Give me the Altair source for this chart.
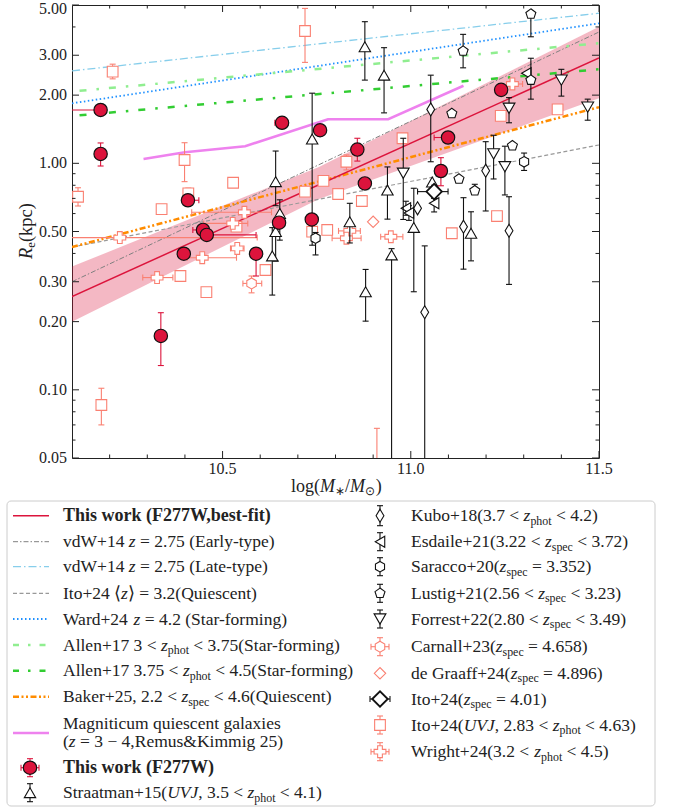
import altair as alt
import pandas as pd

N = None

# ---------------- data ----------------
# This work (F277W)
THIS_X   = [10.176, 10.176, 10.336, 10.408, 10.448, 10.458, 10.397, 10.589, 10.658, 10.759, 10.650, 10.737, 10.858, 10.878, 11.099, 11.080, 11.240]
THIS_Y   = [1.72, 1.10, 0.173, 0.687, 0.508, 0.483, 0.399, 0.399, 1.51, 1.40, 0.547, 0.565, 1.15, 0.815, 1.30, 0.925, 2.11]
THIS_YLO = [N, 0.973, 0.128, N, N, N, N, 0.318, N, N, N, N, 1.023, N, N, 0.796, N]
THIS_YHI = [N, 1.23, 0.219, N, N, N, N, 0.41, N, N, N, N, 1.29, N, N, 1.059, N]
THIS_XLO = [10.0, N, N, 10.40, 10.421, 10.45, N, N, 10.639, N, N, N, N, N, 11.062, N, N]
THIS_XHI = [10.18, N, N, 10.437, 10.45, 10.589, N, N, 10.674, N, N, N, N, N, 11.105, N, N]

# Straatman+15
STR_X   = [10.738, 10.878, 10.929, 10.641, 10.652, 10.641, 10.632, 10.838, 10.938, 10.949, 10.880, 11.008, 11.160, 11.057]
STR_Y   = [1.28, 3.27, 2.45, 0.830, 0.601, 0.500, 0.390, 0.552, 0.762, 0.394, 0.271, 0.521, 0.491, 0.827]
STR_YLO = [0.435, 2.33, 1.67, 0.65, 0.458, 0.37, 0.262, 0.445, 0.567, 0.01, 0.201, 0.271, 0.371, N]
STR_YHI = [2.04, 4.22, 3.24, 1.133, 0.69, 0.54, 0.52, 0.666, 0.964, 0.42, 0.340, 0.776, 0.611, N]

# Kubo+18
KUBO_X   = [11.053, 11.199, 11.140, 11.261, 11.018, 11.037]
KUBO_Y   = [1.73, 0.928, 0.525, 0.504, 0.633, 0.220]
KUBO_YLO = [1.016, 0.616, 0.341, 0.292, N, 0.01]
KUBO_YHI = [2.45, 1.246, 0.705, 0.712, N, 0.432]

# Esdaile+21
ESD_X   = [11.062, 10.987, 10.995, 11.307]
ESD_Y   = [0.666, 0.633, 0.604, 2.50]
ESD_YLO = [0.61, 0.59, 0.56, N]
ESD_YHI = [0.71, 0.68, 0.65, N]

# Saracco+20
SAR_X   = [11.301, 10.747]
SAR_Y   = [1.016, 0.467]
SAR_YLO = [0.93, 0.394]
SAR_YHI = [1.11, 0.495]

# Lustig+21
LUS_X   = [11.319, 11.139, 11.319, 11.109, 11.270, 11.128, 11.170]
LUS_Y   = [4.56, 3.13, 2.33, 1.66, 1.196, 0.853, 0.757]
LUS_YLO = [3.62, 2.64, 1.92, N, N, N, 0.74]
LUS_YHI = [4.70, 3.71, 2.91, N, N, N, 0.808]

# Forrest+22
FOR_X   = [11.400, 11.261, 11.470, 10.980, 11.220, 11.250]
FOR_Y   = [2.33, 1.75, 1.77, 0.904, 1.10, 0.966]
FOR_YLO = [1.98, 1.51, 1.55, 0.565, 0.853, 0.725]
FOR_YHI = [2.60, 1.95, 1.92, 1.29, 1.33, 1.19]

# Carnall+23
CAR_X, CAR_Y = [10.577], [0.295]
CAR_YLO, CAR_YHI = [0.268], [0.318]
CAR_XLO, CAR_XHI = [10.554], [10.604]

# de Graaff+24
DEG_X, DEG_Y = [10.900], [0.552]

# Ito+24 (zspec)
ITOS_X, ITOS_Y = [11.062], [0.750]
ITOS_XLO, ITOS_XHI = [11.018], [11.099]
ITOS_YLO, ITOS_YHI = [0.70], [0.80]

# Ito+24 (UVJ)
ITOU_X   = [10.208, 10.719, 10.116, 10.399, 10.409, 10.338, 10.528, 10.768, 10.719, 10.537, 10.738, 10.778, 10.388, 10.457, 10.614, 10.178, 10.829, 10.807, 10.870, 10.978, 11.109, 11.229, 11.239, 11.390, 10.910]
ITOU_Y   = [2.54, 3.84, 0.712, 1.034, 0.737, 0.628, 0.821, 0.836, 0.750, 0.525, 0.499, 0.508, 0.318, 0.270, 0.338, 0.0857, 1.016, 0.732, 0.682, 1.29, 0.491, 0.585, 1.62, 1.73, 0.030]
ITOU_YLO = [2.36, 2.79, 0.648, 0.83, 0.70, N, N, N, N, N, N, N, N, N, N, 0.070, 0.935, N, N, N, N, N, N, N, 0.02]
ITOU_YHI = [2.74, 4.83, 0.780, 1.233, 0.777, N, N, N, N, N, N, N, N, N, N, 0.1016, 1.089, N, N, N, N, N, N, N, 0.0676]

# Wright+24
WRI_X   = [10.227, 10.558, 10.527, 10.539, 10.446, 10.326, 10.838, 10.829, 10.947, 11.270]
WRI_Y   = [0.470, 0.608, 0.543, 0.421, 0.383, 0.313, 0.503, 0.467, 0.474, 2.24]
WRI_XLO = [10.0, 10.418, 10.450, 10.521, 10.406, 10.288, 10.808, 10.791, 10.920, 11.257]
WRI_XHI = [10.592, 10.63, 10.567, 10.557, 10.537, 10.368, 10.866, 10.868, 10.979, 11.297]

# relations (end points of the straight lines)
FIT_X,   FIT_Y   = [10.1, 11.5], [0.258, 2.92]
BAND_X  = [10.1, 10.756, 11.5]
BAND_LO = [0.200, 0.696, 1.94]
BAND_HI = [0.350, 0.964, 4.01]
EARLY_X, EARLY_Y = [10.1, 11.5], [0.300, 3.80]
LATE_X,  LATE_Y  = [10.1, 11.5], [2.56, 4.60]
ITOL_X,  ITOL_Y  = [10.1, 11.5], [0.427, 1.205]
WARD_X,  WARD_Y  = [10.1, 11.5], [1.84, 4.15]
ALLEN1_X, ALLEN1_Y = [10.12, 11.5], [2.09, 3.39]
ALLEN2_X, ALLEN2_Y = [10.12, 11.5], [1.63, 2.60]
BAKER_X, BAKER_Y = [10.1, 11.5], [0.427, 1.77]
MAG_X = [10.29, 10.40, 10.56, 10.78, 10.94, 11.14]
MAG_Y = [1.045, 1.12, 1.19, 1.565, 1.565, 2.20]

# axes
X_MAJOR = [10.5, 11.0, 11.5]
X_MINOR = [10.2, 10.3, 10.4, 10.6, 10.7, 10.8, 10.9, 11.1, 11.2, 11.3, 11.4]
Y_MAJOR = [0.05, 0.1, 0.2, 0.3, 0.5, 1.0, 2.0, 3.0, 5.0]
Y_MINOR = [0.06, 0.07, 0.08, 0.09, 0.4, 0.6, 0.7, 0.8, 0.9, 4.0]

# ---------------- styles ----------------
W, H = 527, 453
OX, OY = 72, 5
FONT = "Liberation Serif"
TXT = "#222222"
FRAME = "#222222"
CRIMSON = "#DC143C"
SALMON = "#FA8072"
BLACK = "#111111"

PENTA = "M0,-1L0.951,-0.309L0.588,0.809L-0.588,0.809L-0.951,-0.309Z"
HEXA = "M0,-1L0.866,-0.5L0.866,0.5L0,1L-0.866,0.5L-0.866,-0.5Z"
NDIAM = "M0,-1L0.6,0L0,1L-0.6,0Z"

xsc = alt.Scale(domain=[10.1, 11.5], nice=False, zero=False)
ysc = alt.Scale(type="log", domain=[0.05, 5.0], nice=False)


def XQ(f):
    return alt.X(f"{f}:Q", scale=xsc, axis=None)


def YQ(f):
    return alt.Y(f"{f}:Q", scale=ysc, axis=None)


def PX(f):
    return alt.X(f"{f}:Q", scale=None, axis=None)


def PY(f):
    return alt.Y(f"{f}:Q", scale=None, axis=None)


layers = []

# band
band_df = pd.DataFrame({"x": BAND_X, "lo": BAND_LO, "hi": BAND_HI})
layers.append(alt.Chart(band_df).mark_area(color=CRIMSON, opacity=0.3, clip=True)
              .encode(x=XQ("x"), y=YQ("lo"), y2=alt.Y2("hi")))


def line(xv, yv, color, width, dash=None):
    df = pd.DataFrame({"x": xv, "y": yv})
    kw = dict(color=color, strokeWidth=width, clip=True)
    if dash:
        kw["strokeDash"] = dash
    return alt.Chart(df).mark_line(**kw).encode(x=XQ("x"), y=YQ("y"))


DASH = {
    "early": [5, 2, 1.5, 2],
    "late": [8, 3, 1.5, 3],
    "ito": [4, 2.5],
    "ward": [1.5, 2.5],
    "allen": [7, 10, 2.5, 10],
    "baker": [6, 2.5, 2, 2.5, 2, 2.5],
}
LINES = [
    (EARLY_X, EARLY_Y, "#808080", 1.0, DASH["early"]),
    (LATE_X, LATE_Y, "#87CEEB", 1.3, DASH["late"]),
    (ITOL_X, ITOL_Y, "#999999", 1.2, DASH["ito"]),
    (WARD_X, WARD_Y, "#1E90FF", 1.8, DASH["ward"]),
    (ALLEN1_X, ALLEN1_Y, "#90EE90", 2.5, DASH["allen"]),
    (ALLEN2_X, ALLEN2_Y, "#32CD32", 2.5, DASH["allen"]),
    (BAKER_X, BAKER_Y, "#FF8C00", 2.5, DASH["baker"]),
    (MAG_X, MAG_Y, "#EE82EE", 2.5, None),
    (FIT_X, FIT_Y, CRIMSON, 1.5, None),
]
for xv, yv, c, w, d in LINES:
    layers.append(line(xv, yv, c, w, d))


def series(xv, yv, shape, color, size, sw=1.1, fill="white", ylo=None, yhi=None,
           xlo=None, xhi=None, ecolor=None, ew=1.1, cap=6):
    out = []
    ec = ecolor or color
    df = pd.DataFrame({"x": xv, "y": yv})
    if ylo is not None:
        d = df.assign(lo=ylo, hi=yhi).dropna()
        b = alt.Chart(d)
        out.append(b.mark_rule(color=ec, strokeWidth=ew, clip=True).encode(x=XQ("x"), y=YQ("lo"), y2=alt.Y2("hi")))
        for f in ("lo", "hi"):
            out.append(b.mark_tick(orient="horizontal", color=ec, size=cap, thickness=ew, opacity=1, clip=True)
                       .encode(x=XQ("x"), y=YQ(f)))
    if xlo is not None:
        d = df.assign(lo=xlo, hi=xhi).dropna()
        b = alt.Chart(d)
        out.append(b.mark_rule(color=ec, strokeWidth=ew, clip=True).encode(x=XQ("lo"), x2=alt.X2("hi"), y=YQ("y")))
        for f in ("lo", "hi"):
            out.append(b.mark_tick(orient="vertical", color=ec, size=cap, thickness=ew, opacity=1, clip=True)
                       .encode(x=XQ(f), y=YQ("y")))
    out.append(alt.Chart(df).mark_point(shape=shape, size=size, fill=fill, stroke=color, strokeWidth=sw,
                                        opacity=1, fillOpacity=1, clip=True).encode(x=XQ("x"), y=YQ("y")))
    return out


layers += series(ITOU_X, ITOU_Y, "square", SALMON, 115, ylo=ITOU_YLO, yhi=ITOU_YHI)
layers += series(WRI_X, WRI_Y, "cross", SALMON, 140, xlo=WRI_XLO, xhi=WRI_XHI)
layers += series(CAR_X, CAR_Y, HEXA, SALMON, 120, ylo=CAR_YLO, yhi=CAR_YHI, xlo=CAR_XLO, xhi=CAR_XHI)
layers += series(DEG_X, DEG_Y, "diamond", SALMON, 130)
layers += series(STR_X, STR_Y, "triangle-up", BLACK, 130, ylo=STR_YLO, yhi=STR_YHI)
layers += series(KUBO_X, KUBO_Y, NDIAM, BLACK, 170, ylo=KUBO_YLO, yhi=KUBO_YHI)
layers += series(ESD_X, ESD_Y, "triangle-left", BLACK, 120, ylo=ESD_YLO, yhi=ESD_YHI)
layers += series(SAR_X, SAR_Y, HEXA, BLACK, 110, ylo=SAR_YLO, yhi=SAR_YHI)
layers += series(LUS_X, LUS_Y, PENTA, BLACK, 110, ylo=LUS_YLO, yhi=LUS_YHI)
layers += series(FOR_X, FOR_Y, "triangle-down", BLACK, 140, ylo=FOR_YLO, yhi=FOR_YHI)
layers += series(ITOS_X, ITOS_Y, "diamond", BLACK, 240, sw=1.8, ylo=ITOS_YLO, yhi=ITOS_YHI, xlo=ITOS_XLO, xhi=ITOS_XHI)
layers += series(THIS_X, THIS_Y, "circle", BLACK, 178, sw=1.2, fill=CRIMSON, ylo=THIS_YLO, yhi=THIS_YHI,
                 xlo=THIS_XLO, xhi=THIS_XHI, ecolor=CRIMSON)

# inward ticks on all four sides
for vals, ln in ((X_MAJOR, 7), (X_MINOR, 3.5)):
    b = alt.Chart(pd.DataFrame({"v": vals}))
    layers.append(b.mark_rule(color=FRAME, strokeWidth=1).encode(x=XQ("v"), y=alt.value(H), y2=alt.value(H - ln)))
    layers.append(b.mark_rule(color=FRAME, strokeWidth=1).encode(x=XQ("v"), y=alt.value(0), y2=alt.value(ln)))
for vals, ln in ((Y_MAJOR, 7), (Y_MINOR, 3.5)):
    b = alt.Chart(pd.DataFrame({"v": vals}))
    layers.append(b.mark_rule(color=FRAME, strokeWidth=1).encode(y=YQ("v"), x=alt.value(0), x2=alt.value(ln)))
    layers.append(b.mark_rule(color=FRAME, strokeWidth=1).encode(y=YQ("v"), x=alt.value(W), x2=alt.value(W - ln)))

# tick labels (drawn as text through the scales)
xlab = pd.DataFrame({"v": X_MAJOR, "t": [f"{v:.1f}" for v in X_MAJOR]})
layers.append(alt.Chart(xlab).mark_text(font=FONT, fontSize=16, color=TXT, align="center", baseline="middle")
              .encode(x=XQ("v"), y=alt.value(H + 11), text="t:N"))
ylab = pd.DataFrame({"v": Y_MAJOR, "t": [f"{v:.2f}" for v in Y_MAJOR]})
ylab_top = ylab[ylab["v"] == max(Y_MAJOR)]
ylab_rest = ylab[ylab["v"] != max(Y_MAJOR)]
layers.append(alt.Chart(ylab_rest).mark_text(font=FONT, fontSize=16, color=TXT, align="right", baseline="middle")
              .encode(y=YQ("v"), x=alt.value(-5), text="t:N"))
layers.append(alt.Chart(ylab_top).mark_text(font=FONT, fontSize=16, color=TXT, align="right", baseline="middle", dy=4)
              .encode(y=YQ("v"), x=alt.value(-5), text="t:N"))

# ---------------- text with sub-scripts ----------------
ROMAN = dict(zip(" ()+,-.0123456789<=>/", [250, 333, 333, 564, 250, 333, 250] + [500] * 10 + [564, 564, 564, 278]))
ROMAN.update(dict(zip("ABCDEFGHIJKLMNOPQRSTUVWXYZ",
                      [722, 667, 667, 722, 611, 556, 722, 722, 333, 389, 722, 611, 889, 722, 722, 556, 722, 667, 556, 611, 722, 722, 944, 722, 722, 611])))
ROMAN.update(dict(zip("abcdefghijklmnopqrstuvwxyz",
                      [444, 500, 444, 500, 444, 333, 500, 500, 278, 278, 500, 278, 778, 500, 500, 500, 500, 333, 389, 278, 500, 500, 722, 500, 500, 444])))
ROMAN.update({"&": 778, "⟨": 390, "⟩": 390, "−": 564, "∗": 820, "⊙": 880})
ITAL = {"z": 389, "U": 722, "V": 611, "J": 444, "M": 833, "R": 611}
SUB = 0.68

text_rows = {}


def seg_w(t, st, fs):
    tbl = ITAL if st == "i" else ROMAN
    w = sum(tbl.get(c, ROMAN.get(c, 500)) for c in t) / 1000.0 * fs
    return w * (SUB if st == "s" else 1.0)


def add_label(segs, x0, yc, fs=17.5, angle=0, sub_dy=3.5):
    """x0, yc in page pixels; for angle 270 text runs upwards from (x0, yc)."""
    s = 0.0
    for t, st in segs:
        lead = len(t) - len(t.lstrip(" "))
        shown = t.strip(" ")
        if shown:
            off = s + seg_w(" " * lead, "r", fs)
            dy = sub_dy if st == "s" else 0
            if angle == 0:
                gx, gy = x0 + off - OX, yc + 5.5 + dy - OY
            else:
                gx, gy = x0 + dy - OX, yc - off - OY
            key = (st, fs, angle)
            text_rows.setdefault(key, []).append({"px": gx, "py": gy, "t": shown})
        s += seg_w(t, st, fs)


# axis titles
add_label([("log(", "r"), ("M", "i"), ("∗", "s"), ("/", "r"), ("M", "i"), ("⊙", "s"), (")", "r")], 291, 486, fs=18)
add_label([("R", "i"), ("e", "s"), ("(kpc)", "r")], 31.5, 259, fs=18.5, angle=270)

# ---------------- legend (drawn below the plot, pixel positions) ----------------
one = pd.DataFrame({"k": [0]})
layers.append(alt.Chart(one).mark_rect(fill="white", stroke="#cccccc", strokeWidth=1, cornerRadius=4).encode(
    x=alt.value(7 - OX), x2=alt.value(655 - OX), y=alt.value(501 - OY), y2=alt.value(806 - OY)))

LX_LINE = (13, 49)
LX_TEXT = 63
LX_MARK = 30
RX_MARK = 380
RX_TEXT = 411

L_LABELS = [
    ([("This work (F277W,best-fit)", "b")], 515.7),
    ([("vdW+14 ", "r"), ("z", "i"), (" = 2.75 (Early-type)", "r")], 541.7),
    ([("vdW+14 ", "r"), ("z", "i"), (" = 2.75 (Late-type)", "r")], 566.7),
    ([("Ito+24 ⟨", "r"), ("z", "i"), ("⟩ = 3.2(Quiescent)", "r")], 593.3),
    ([("Ward+24 ", "r"), ("z", "i"), (" = 4.2 (Star-forming)", "r")], 619.0),
    ([("Allen+17 3 < ", "r"), ("z", "i"), ("phot", "s"), (" < 3.75(Star-forming)", "r")], 645.0),
    ([("Allen+17 3.75 < ", "r"), ("z", "i"), ("phot", "s"), (" < 4.5(Star-forming)", "r")], 670.7),
    ([("Baker+25, 2.2 < ", "r"), ("z", "i"), ("spec", "s"), (" < 4.6(Quiescent)", "r")], 696.7),
    ([("Magniticum quiescent galaxies", "r")], 723.3),
    ([("(", "r"), ("z", "i"), (" = 3 − 4,Remus&Kimmig 25)", "r")], 741.7),
    ([("This work (F277W)", "b")], 767.7),
    ([("Straatman+15(", "r"), ("UVJ", "i"), (", 3.5 < ", "r"), ("z", "i"), ("phot", "s"), (" < 4.1)", "r")], 792.7),
]
R_LABELS = [
    ([("Kubo+18(3.7 < ", "r"), ("z", "i"), ("phot", "s"), (" < 4.2)", "r")], 515.7),
    ([("Esdaile+21(3.22 < ", "r"), ("z", "i"), ("spec", "s"), (" < 3.72)", "r")], 541.7),
    ([("Saracco+20(", "r"), ("z", "i"), ("spec", "s"), (" = 3.352)", "r")], 566.7),
    ([("Lustig+21(2.56 < ", "r"), ("z", "i"), ("spec", "s"), (" < 3.23)", "r")], 593.3),
    ([("Forrest+22(2.80 < ", "r"), ("z", "i"), ("spec", "s"), (" < 3.49)", "r")], 619.0),
    ([("Carnall+23(", "r"), ("z", "i"), ("spec", "s"), (" = 4.658)", "r")], 646.7),
    ([("de Graaff+24(", "r"), ("z", "i"), ("spec", "s"), (" = 4.896)", "r")], 673.3),
    ([("Ito+24(", "r"), ("z", "i"), ("spec", "s"), (" = 4.01)", "r")], 699.0),
    ([("Ito+24(", "r"), ("UVJ", "i"), (", 2.83 < ", "r"), ("z", "i"), ("phot", "s"), (" < 4.63)", "r")], 725.0),
    ([("Wright+24(3.2 < ", "r"), ("z", "i"), ("phot", "s"), (" < 4.5)", "r")], 751.7),
]
for segs, yc in L_LABELS:
    add_label(segs, LX_TEXT, yc)
for segs, yc in R_LABELS:
    add_label(segs, RX_TEXT, yc)

for (st, fs, angle), rows in text_rows.items():
    mk = dict(align="left", baseline="alphabetic", font=FONT,
              fontSize=fs * (SUB if st == "s" else 1), color=TXT)
    if angle:
        mk["angle"] = angle
    if st == "i":
        mk["fontStyle"] = "italic"
    if st == "b":
        mk["fontWeight"] = "bold"
        mk["fontSize"] = 18
    layers.append(alt.Chart(pd.DataFrame(rows)).mark_text(**mk).encode(
        x=PX("px"), y=PY("py"), text="t:N"))

# legend line samples
L_LINE_STYLES = [
    (CRIMSON, 1.5, None, 515.7),
    ("#808080", 1.0, DASH["early"], 541.7),
    ("#87CEEB", 1.3, DASH["late"], 566.7),
    ("#999999", 1.2, DASH["ito"], 593.3),
    ("#1E90FF", 1.8, DASH["ward"], 619.0),
    ("#90EE90", 2.5, [6, 9, 2.5, 9], 645.0),
    ("#32CD32", 2.5, [6, 9, 2.5, 9], 670.7),
    ("#FF8C00", 2.5, DASH["baker"], 696.7),
    ("#EE82EE", 2.5, None, 733.0),
]
for c, w, d, yc in L_LINE_STYLES:
    kw = dict(color=c, strokeWidth=w)
    if d:
        kw["strokeDash"] = d
    layers.append(alt.Chart(one).mark_rule(**kw).encode(
        x=alt.value(LX_LINE[0] - OX), x2=alt.value(LX_LINE[1] - OX), y=alt.value(yc - OY)))

# legend markers with error bars
leg_rules = []
leg_pts = []


def leg_marker(cx, cy, shape, stroke, fill, size, sw, ecol, vbar=0, hbar=0):
    gx, gy = cx - OX, cy - OY
    if vbar:
        leg_rules.append({"x1": gx, "x2": gx, "y1": gy - vbar, "y2": gy + vbar, "c": ecol})
        for s in (-1, 1):
            leg_rules.append({"x1": gx - 3, "x2": gx + 3, "y1": gy + s * vbar, "y2": gy + s * vbar, "c": ecol})
    if hbar:
        leg_rules.append({"x1": gx - hbar, "x2": gx + hbar, "y1": gy, "y2": gy, "c": ecol})
        for s in (-1, 1):
            leg_rules.append({"x1": gx + s * hbar, "x2": gx + s * hbar, "y1": gy - 3, "y2": gy + 3, "c": ecol})
    leg_pts.append({"px": gx, "py": gy, "shape": shape, "stroke": stroke, "fill": fill, "size": size, "sw": sw})


leg_marker(LX_MARK, 767.7, "circle", BLACK, CRIMSON, 178, 1.2, CRIMSON, vbar=9, hbar=9)
leg_marker(LX_MARK, 792.7, "triangle-up", BLACK, "white", 130, 1.1, BLACK, vbar=9)
leg_marker(RX_MARK, 515.7, NDIAM, BLACK, "white", 170, 1.1, BLACK, vbar=10)
leg_marker(RX_MARK, 541.7, "triangle-left", BLACK, "white", 120, 1.1, BLACK, vbar=9)
leg_marker(RX_MARK, 566.7, HEXA, BLACK, "white", 110, 1.1, BLACK, vbar=9)
leg_marker(RX_MARK, 593.3, PENTA, BLACK, "white", 110, 1.1, BLACK, vbar=9)
leg_marker(RX_MARK, 619.0, "triangle-down", BLACK, "white", 140, 1.1, BLACK, vbar=9)
leg_marker(RX_MARK, 646.7, HEXA, SALMON, "white", 120, 1.1, SALMON, vbar=9, hbar=9)
leg_marker(RX_MARK, 673.3, "diamond", SALMON, "white", 130, 1.1, SALMON)
leg_marker(RX_MARK, 699.0, "diamond", BLACK, "white", 240, 1.8, BLACK, hbar=10)
leg_marker(RX_MARK, 725.0, "square", SALMON, "white", 115, 1.1, SALMON, vbar=9)
leg_marker(RX_MARK, 751.7, "cross", SALMON, "white", 140, 1.1, SALMON, vbar=9, hbar=9)

layers.append(alt.Chart(pd.DataFrame(leg_rules)).mark_rule(strokeWidth=1.1).encode(
    x=PX("x1"), x2=alt.X2("x2"), y=PY("y1"), y2=alt.Y2("y2"),
    color=alt.Color("c:N", scale=None)))
layers.append(alt.Chart(pd.DataFrame(leg_pts)).mark_point(opacity=1, fillOpacity=1).encode(
    x=PX("px"), y=PY("py"),
    shape=alt.Shape("shape:N", scale=None), size=alt.Size("size:Q", scale=None),
    fill=alt.Fill("fill:N", scale=None), stroke=alt.Stroke("stroke:N", scale=None),
    strokeWidth=alt.StrokeWidth("sw:Q", scale=None)))

chart = alt.layer(*layers).properties(
    width=W, height=H,
    autosize=alt.AutoSizeParams(type="none"),
    padding={"left": OX, "top": OY, "right": 673 - OX - W, "bottom": 809 - OY - H},
).configure_view(stroke=FRAME, strokeWidth=1)

chart.save("out.html", embed_options={"renderer": "svg", "actions": False})
